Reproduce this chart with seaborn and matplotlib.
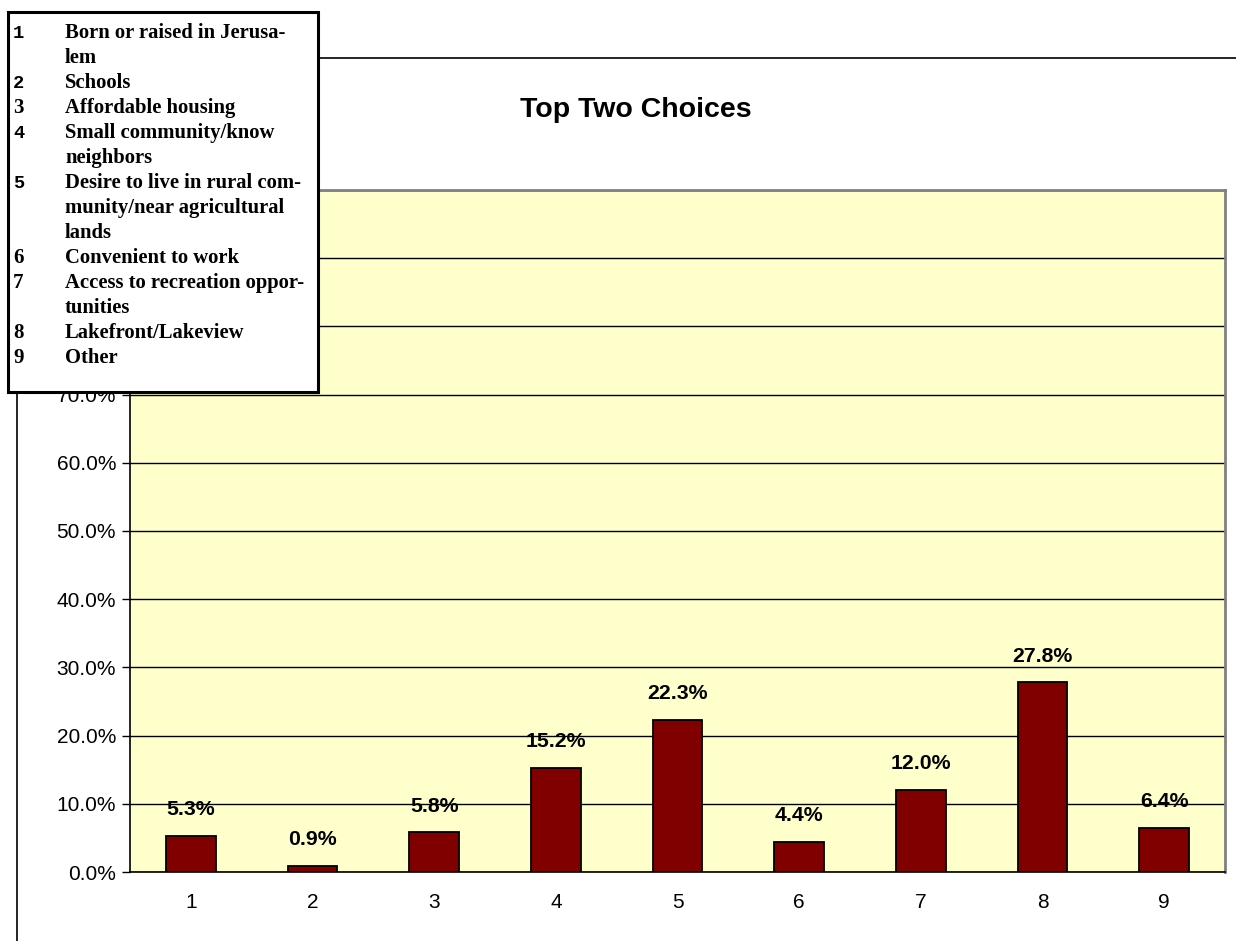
import matplotlib
matplotlib.use("Agg")
import matplotlib.pyplot as plt
import matplotlib.patches as mpatches
import matplotlib.lines as mlines
from matplotlib.ticker import FixedLocator, PercentFormatter
import seaborn as sns
import pandas as pd

categories = ["1", "2", "3", "4", "5", "6", "7", "8", "9"]
shares = [5.3, 0.9, 5.8, 15.2, 22.3, 4.4, 12.0, 27.8, 6.4]
legend_lines = [
    ("1", "Born or raised in Jerusa-"),
    ("", "lem"),
    ("2", "Schools"),
    ("3", "Affordable housing"),
    ("4", "Small community/know"),
    ("", "neighbors"),
    ("5", "Desire to live in rural com-"),
    ("", "munity/near agricultural"),
    ("", "lands"),
    ("6", "Convenient to work"),
    ("7", "Access to recreation oppor-"),
    ("", "tunities"),
    ("8", "Lakefront/Lakeview"),
    ("9", "Other"),
]
mono_numbers = {"1", "2", "4", "5"}
title = "Top Two Choices"

sns.set_style("white")
plt.rcParams["font.family"] = ["Liberation Sans", "DejaVu Sans"]
plt.rcParams["text.color"] = "black"
plt.rcParams["xtick.color"] = "black"
plt.rcParams["ytick.color"] = "black"
plt.rcParams["xtick.labelcolor"] = "black"
plt.rcParams["ytick.labelcolor"] = "black"

W, H = 1236, 941
fig = plt.figure(figsize=(W / 100, H / 100), dpi=100)
fig.patch.set_facecolor("white")

def fx(px):
    return px / W

def fy(py):
    return 1 - py / H

ax = fig.add_axes([fx(130), fy(872), fx(1225) - fx(130), fy(190) - fy(872)])
ax.set_facecolor("#FFFFCC")

df = pd.DataFrame({"category": categories, "share": shares})
sns.barplot(data=df, x="category", y="share", order=categories, color="#800000",
            saturation=1, width=0.41, edgecolor="black", linewidth=1.3, ax=ax, zorder=3)

ax.set_ylim(0, 100)
ax.set_xlim(-0.5, len(categories) - 0.5)
ax.yaxis.set_major_locator(FixedLocator(range(0, 101, 10)))
ax.yaxis.set_major_formatter(PercentFormatter(decimals=1))
ax.grid(axis="y", color="black", linewidth=1.0, zorder=1)
ax.set_axisbelow(True)
ax.set_xlabel("")
ax.set_ylabel("")

ax.xaxis.set_minor_locator(FixedLocator([i - 0.5 for i in range(len(categories) + 1)]))
ax.tick_params(axis="x", which="major", length=0, pad=15, labelsize=15, labelcolor="black")
ax.tick_params(axis="x", which="minor", length=5, width=1, color="black", direction="out")
ax.tick_params(axis="y", which="major", length=6, width=1, color="black", direction="out",
               labelsize=15, pad=4, left=True, labelcolor="black")

for side in ["top", "right"]:
    ax.spines[side].set_visible(True)
    ax.spines[side].set_color("#808080")
    ax.spines[side].set_linewidth(2)
for side in ["left", "bottom"]:
    ax.spines[side].set_color("black")
    ax.spines[side].set_linewidth(1.2)

for i, v in enumerate(shares):
    ax.annotate(f"{v:.1f}%", xy=(i, v), xytext=(0, 19), textcoords="offset points",
                ha="center", va="center", fontsize=15.3, fontweight="bold",
                color="black", zorder=5)

fig.text(fx(636), fy(110), title, ha="center", va="center", fontsize=20.5,
         fontweight="bold", color="black")

# outer chart frame
fig.add_artist(mlines.Line2D([fx(17), fx(1236)], [fy(58), fy(58)], color="black", lw=1.2))
fig.add_artist(mlines.Line2D([fx(17), fx(17)], [fy(58), fy(941)], color="black", lw=1.2))

# legend box with item descriptions
fig.add_artist(mpatches.Rectangle((fx(8), fy(392)), fx(318) - fx(8), fy(12) - fy(392),
                                  facecolor="white", edgecolor="black", linewidth=2.2,
                                  transform=fig.transFigure, zorder=10))
y0, step = 33, 25
for k, (num, text) in enumerate(legend_lines):
    y = fy(y0 + k * step)
    if num:
        if num in mono_numbers:
            fig.text(fx(13), y, num, ha="left", va="center", fontsize=13.5,
                     fontweight="bold", family="Liberation Mono", color="black", zorder=11)
        else:
            fig.text(fx(13), y, num, ha="left", va="center", fontsize=15,
                     fontweight="bold", family="Liberation Serif", color="black", zorder=11)
    fig.text(fx(65), y, text, ha="left", va="center", fontsize=14.9,
             fontweight="bold", family="Liberation Serif", color="black", zorder=11)

fig.savefig("out.png", dpi=100)
